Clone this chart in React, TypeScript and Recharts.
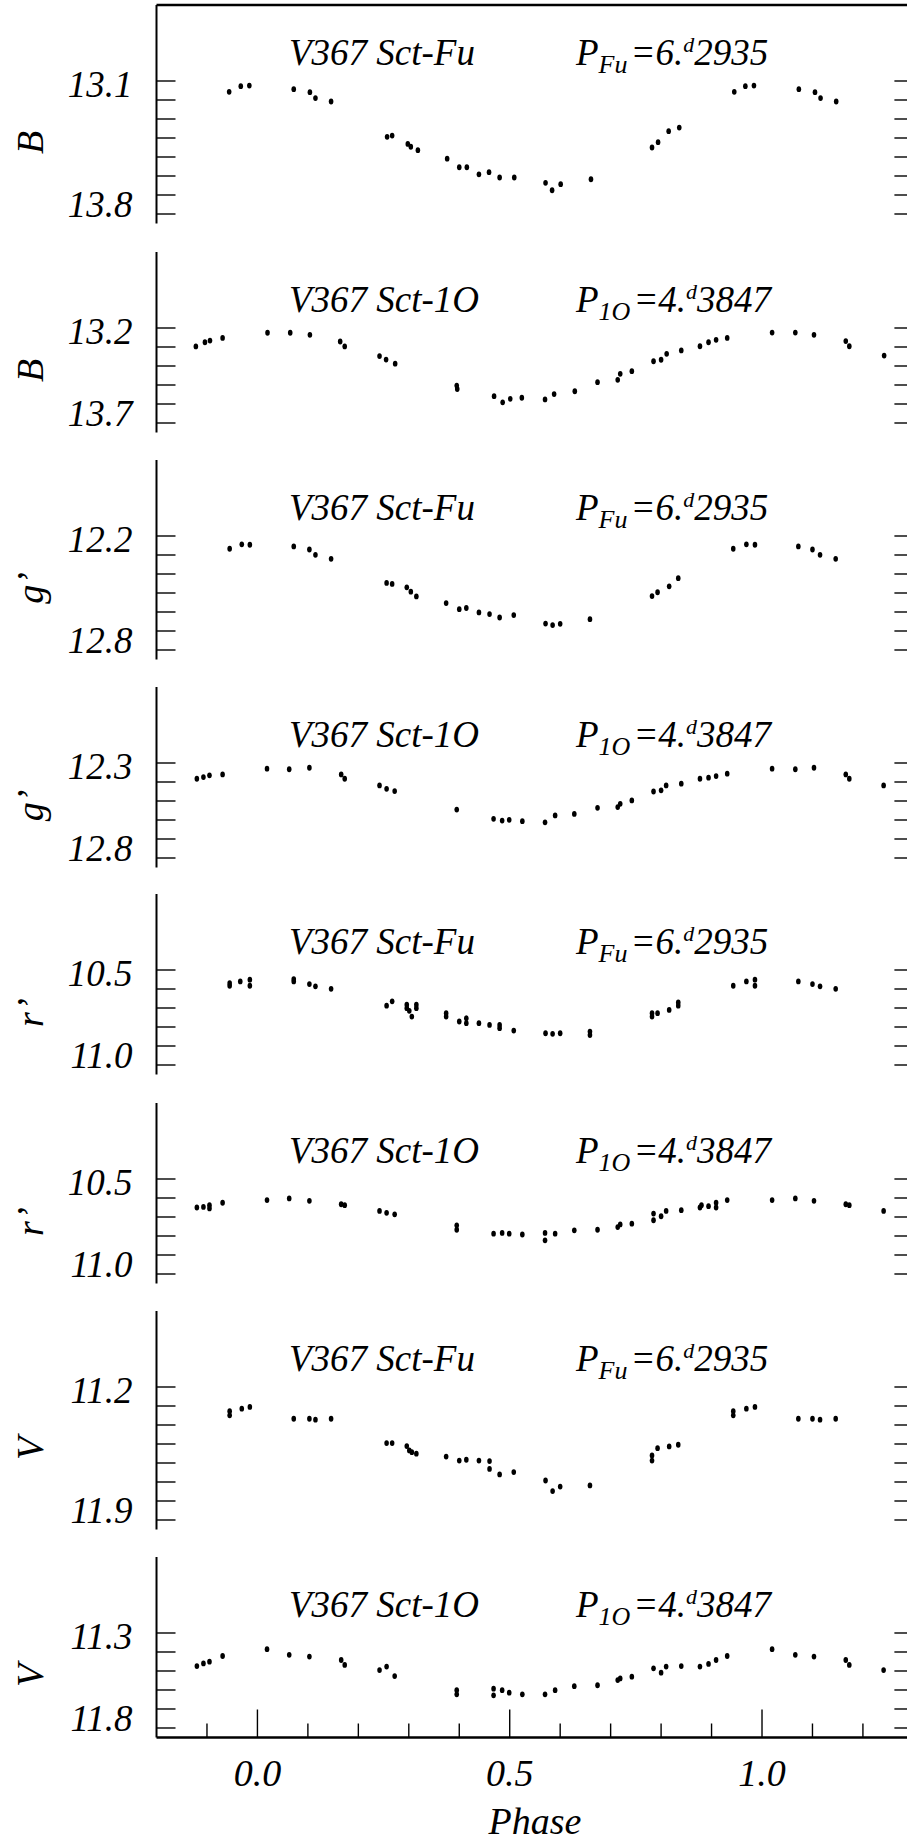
import React from 'react';
import { ScatterChart, Scatter, XAxis, YAxis, ReferenceLine, Customized } from 'recharts';

// Phase axis shared by all panels
const phaseTicks = [-0.1, 0, 0.1, 0.2, 0.3, 0.4, 0.5, 0.6, 0.7, 0.8, 0.9, 1, 1.1, 1.2];
const phaseLabelTicks = [0, 0.5, 1];

// Period strings for the two pulsation modes
const periodFu = ['6.', '2935'];
const period1O = ['4.', '3847'];

// B, fundamental mode
const bFuPhase = [-0.056, -0.033, -0.016, 0.072, 0.104, 0.115, 0.146, 0.257, 0.267, 0.298, 0.304, 0.318, 0.376, 0.4, 0.415, 0.439, 0.459, 0.48, 0.509, 0.571, 0.584, 0.601, 0.661, 0.782, 0.794, 0.815, 0.836, 0.945, 0.967, 0.984, 1.073, 1.105, 1.116, 1.147];
const bFuMag = [13.157, 13.127, 13.124, 13.143, 13.159, 13.19, 13.208, 13.394, 13.387, 13.431, 13.446, 13.464, 13.509, 13.554, 13.554, 13.591, 13.58, 13.608, 13.608, 13.636, 13.675, 13.643, 13.617, 13.45, 13.422, 13.364, 13.345, 13.157, 13.127, 13.124, 13.143, 13.159, 13.19, 13.208];
const bFuTicks = [13.1, 13.2, 13.3, 13.4, 13.5, 13.6, 13.7, 13.8];

// B, first overtone
const b1oPhase = [-0.122, -0.104, -0.094, -0.069, 0.02, 0.065, 0.104, 0.164, 0.173, 0.242, 0.255, 0.273, 0.395, 0.396, 0.469, 0.486, 0.501, 0.524, 0.57, 0.588, 0.629, 0.674, 0.714, 0.719, 0.742, 0.785, 0.8, 0.811, 0.84, 0.877, 0.894, 0.909, 0.931, 1.02, 1.066, 1.103, 1.166, 1.173, 1.242];
const b1oMag = [13.297, 13.275, 13.266, 13.252, 13.225, 13.225, 13.236, 13.271, 13.297, 13.348, 13.366, 13.388, 13.503, 13.521, 13.559, 13.591, 13.573, 13.567, 13.576, 13.548, 13.533, 13.485, 13.473, 13.441, 13.427, 13.375, 13.367, 13.336, 13.318, 13.296, 13.275, 13.262, 13.252, 13.224, 13.224, 13.236, 13.269, 13.296, 13.345];
const b1oTicks = [13.2, 13.3, 13.4, 13.5, 13.6, 13.7];

// g', fundamental mode
const gFuPhase = [-0.055, -0.031, -0.015, 0.072, 0.103, 0.115, 0.146, 0.256, 0.267, 0.296, 0.304, 0.315, 0.374, 0.4, 0.414, 0.439, 0.46, 0.48, 0.508, 0.571, 0.585, 0.6, 0.659, 0.782, 0.793, 0.816, 0.834, 0.943, 0.969, 0.986, 1.072, 1.1, 1.115, 1.146];
const gFuMag = [12.267, 12.244, 12.246, 12.255, 12.271, 12.299, 12.32, 12.447, 12.452, 12.47, 12.493, 12.518, 12.553, 12.585, 12.579, 12.602, 12.611, 12.629, 12.616, 12.661, 12.669, 12.662, 12.638, 12.516, 12.496, 12.465, 12.422, 12.267, 12.244, 12.246, 12.255, 12.271, 12.299, 12.32];
const gFuTicks = [12.2, 12.3, 12.4, 12.5, 12.6, 12.7, 12.8];

// g', first overtone
const g1oPhase = [-0.12, -0.107, -0.095, -0.069, 0.019, 0.063, 0.103, 0.166, 0.173, 0.242, 0.256, 0.272, 0.395, 0.468, 0.485, 0.499, 0.525, 0.57, 0.59, 0.628, 0.674, 0.714, 0.719, 0.742, 0.785, 0.8, 0.81, 0.84, 0.877, 0.894, 0.909, 0.931, 1.02, 1.066, 1.103, 1.166, 1.173, 1.241];
const g1oMag = [12.383, 12.374, 12.365, 12.36, 12.33, 12.333, 12.325, 12.36, 12.383, 12.418, 12.436, 12.448, 12.545, 12.594, 12.603, 12.599, 12.606, 12.612, 12.576, 12.568, 12.536, 12.532, 12.515, 12.497, 12.45, 12.444, 12.418, 12.409, 12.383, 12.377, 12.369, 12.356, 12.33, 12.333, 12.325, 12.36, 12.383, 12.418];
const g1oTicks = [12.3, 12.4, 12.5, 12.6, 12.7, 12.8];

// r', fundamental mode
const rFuPhase = [-0.055, -0.055, -0.034, -0.015, -0.015, 0.072, 0.072, 0.103, 0.115, 0.146, 0.256, 0.267, 0.296, 0.296, 0.301, 0.306, 0.315, 0.315, 0.374, 0.374, 0.4, 0.414, 0.414, 0.439, 0.46, 0.48, 0.48, 0.508, 0.571, 0.585, 0.6, 0.659, 0.659, 0.782, 0.782, 0.793, 0.816, 0.834, 0.834, 0.943, 0.969, 0.986, 0.986, 1.072, 1.1, 1.115, 1.146];
const rFuMag = [10.583, 10.569, 10.56, 10.551, 10.583, 10.56, 10.548, 10.574, 10.586, 10.599, 10.688, 10.665, 10.701, 10.683, 10.715, 10.745, 10.701, 10.683, 10.745, 10.727, 10.771, 10.754, 10.78, 10.78, 10.789, 10.806, 10.789, 10.819, 10.833, 10.836, 10.833, 10.842, 10.824, 10.745, 10.727, 10.727, 10.71, 10.688, 10.671, 10.583, 10.56, 10.551, 10.583, 10.56, 10.574, 10.586, 10.599];
const rFuTicks = [10.5, 10.6, 10.7, 10.8, 10.9, 11.0];

// r', first overtone
const r1oPhase = [-0.12, -0.107, -0.095, -0.095, -0.069, 0.019, 0.063, 0.103, 0.166, 0.173, 0.242, 0.256, 0.272, 0.395, 0.395, 0.468, 0.485, 0.499, 0.525, 0.57, 0.57, 0.59, 0.628, 0.674, 0.714, 0.719, 0.742, 0.785, 0.785, 0.8, 0.81, 0.84, 0.877, 0.88, 0.894, 0.909, 0.909, 0.931, 1.02, 1.066, 1.103, 1.166, 1.173, 1.241];
const r1oMag = [10.65, 10.647, 10.655, 10.638, 10.625, 10.611, 10.602, 10.615, 10.633, 10.638, 10.668, 10.678, 10.686, 10.744, 10.767, 10.788, 10.784, 10.788, 10.792, 10.784, 10.823, 10.788, 10.77, 10.767, 10.753, 10.739, 10.735, 10.717, 10.682, 10.696, 10.668, 10.664, 10.65, 10.638, 10.643, 10.65, 10.625, 10.611, 10.611, 10.602, 10.615, 10.633, 10.638, 10.668];
const r1oTicks = [10.5, 10.6, 10.7, 10.8, 10.9, 11.0];

// V, fundamental mode
const vFuPhase = [-0.055, -0.055, -0.031, -0.015, 0.072, 0.103, 0.115, 0.146, 0.256, 0.267, 0.296, 0.301, 0.306, 0.315, 0.374, 0.4, 0.414, 0.439, 0.46, 0.46, 0.48, 0.508, 0.571, 0.585, 0.6, 0.659, 0.782, 0.782, 0.793, 0.816, 0.834, 0.943, 0.943, 0.969, 0.986, 1.072, 1.1, 1.115, 1.146];
const vFuMag = [11.327, 11.349, 11.314, 11.305, 11.367, 11.367, 11.372, 11.367, 11.495, 11.495, 11.511, 11.534, 11.543, 11.551, 11.566, 11.587, 11.583, 11.587, 11.59, 11.631, 11.66, 11.648, 11.692, 11.748, 11.724, 11.718, 11.56, 11.587, 11.522, 11.513, 11.504, 11.327, 11.349, 11.314, 11.305, 11.367, 11.367, 11.372, 11.367];
const vFuTicks = [11.2, 11.3, 11.4, 11.5, 11.6, 11.7, 11.8, 11.9];

// V, first overtone
const v1oPhase = [-0.12, -0.107, -0.095, -0.069, 0.019, 0.063, 0.103, 0.166, 0.173, 0.242, 0.256, 0.272, 0.395, 0.395, 0.468, 0.468, 0.485, 0.499, 0.525, 0.57, 0.59, 0.628, 0.674, 0.714, 0.719, 0.742, 0.785, 0.8, 0.81, 0.84, 0.877, 0.894, 0.909, 0.931, 1.02, 1.066, 1.103, 1.166, 1.173, 1.241];
const v1oMag = [11.474, 11.46, 11.451, 11.421, 11.385, 11.415, 11.424, 11.442, 11.468, 11.495, 11.477, 11.527, 11.601, 11.623, 11.593, 11.628, 11.601, 11.614, 11.623, 11.623, 11.601, 11.58, 11.575, 11.548, 11.539, 11.53, 11.486, 11.509, 11.477, 11.474, 11.477, 11.463, 11.442, 11.421, 11.385, 11.415, 11.424, 11.442, 11.468, 11.495];
const v1oTicks = [11.3, 11.4, 11.5, 11.6, 11.7, 11.8];

// layout
const SERIF = '"Liberation Serif", "Times New Roman", serif';
const PAGE_W = 907;
const PAGE_H = 1845;
const CHART_W = 1000;
const PLOT_LEFT = 156.5;
const PLOT_RIGHT = 913.4; // phase 1.3, just past the picture's edge
const AXIS_W = 60;
const PX_PER_MAG = 190;
const M = 12;

type Panel = {
  band: string;
  mode: 'Fu' | '1O';
  phase: number[];
  mag: number[];
  ticks: number[];
  domain: [number, number];
  top: number;
};

const panels: Panel[] = [
  { band: 'B', mode: 'Fu', phase: bFuPhase, mag: bFuMag, ticks: bFuTicks, domain: [12.7, 13.85], top: 5 },
  { band: 'B', mode: '1O', phase: b1oPhase, mag: b1oMag, ticks: b1oTicks, domain: [12.8, 13.75], top: 251.5 },
  { band: 'g\u2019', mode: 'Fu', phase: gFuPhase, mag: gFuMag, ticks: gFuTicks, domain: [11.8, 12.85], top: 459.7 },
  { band: 'g\u2019', mode: '1O', phase: g1oPhase, mag: g1oMag, ticks: g1oTicks, domain: [11.9, 12.85], top: 686.7 },
  { band: 'r\u2019', mode: 'Fu', phase: rFuPhase, mag: rFuMag, ticks: rFuTicks, domain: [10.1, 11.05], top: 894.3 },
  { band: 'r\u2019', mode: '1O', phase: r1oPhase, mag: r1oMag, ticks: r1oTicks, domain: [10.1, 11.05], top: 1103 },
  { band: 'V', mode: 'Fu', phase: vFuPhase, mag: vFuMag, ticks: vFuTicks, domain: [10.8, 11.95], top: 1310.7 },
  { band: 'V', mode: '1O', phase: v1oPhase, mag: v1oMag, ticks: v1oTicks, domain: [10.9, 11.85], top: 1557.3 },
];

const Dot = (p: any) => <ellipse cx={p.cx} cy={p.cy} rx={2.3} ry={2.9} fill="#000" />;

// left ticks point into the plot; only the first and last value get a label
function LeftTick({ x, y, payload, ticks }: any) {
  const v = payload.value;
  const first = v === ticks[0];
  const last = v === ticks[ticks.length - 1];
  return (
    <g>
      <line x1={x} x2={x + 19} y1={y} y2={y} stroke="#000" strokeWidth={1.4} />
      {(first || last) && (
        <text x={x - 24} y={y + (first ? 16 : 3)} textAnchor="end" style={{ fontFamily: SERIF, fontStyle: 'italic' }} fontSize={37} fill="#000">
          {v.toFixed(1)}
        </text>
      )}
    </g>
  );
}

function RightTick({ x, y }: any) {
  return <line x1={x} x2={x - 19} y1={y} y2={y} stroke="#000" strokeWidth={1.4} />;
}

function PhaseTick({ x, y, payload }: any) {
  const major = phaseLabelTicks.includes(payload.value);
  return (
    <g>
      <line x1={x} x2={x} y1={y} y2={y - (major ? 28 : 14)} stroke="#000" strokeWidth={1.4} />
      {major && (
        <text x={x} y={y + 49} textAnchor="middle" style={{ fontFamily: SERIF, fontStyle: 'italic' }} fontSize={38} fill="#000">
          {payload.value.toFixed(1)}
        </text>
      )}
    </g>
  );
}

function PanelText({ p, last }: { p: Panel; last: boolean }) {
  const plotH = (p.domain[1] - p.domain[0]) * PX_PER_MAG;
  const mid = p.ticks[0] + (p.ticks[p.ticks.length - 1] - p.ticks[0]) / 2;
  const labelY = M + (mid - p.domain[0]) * PX_PER_MAG - 5;
  const [whole, frac] = p.mode === 'Fu' ? periodFu : period1O;
  return (
    <g style={{ fontFamily: SERIF, fontStyle: 'italic' }} fill="#000">
      <text x={289} y={M + 60} fontSize={37}>{`V367 Sct-${p.mode}`}</text>
      <text x={576} y={M + 60} fontSize={37}>
        P<tspan fontSize={26} dy={8}>{p.mode}</tspan>
        <tspan dx={3} dy={-8}>={whole}</tspan>
        <tspan fontSize={22} dy={-13}>d</tspan>
        <tspan dy={13}>{frac}</tspan>
      </text>
      <text transform={`translate(43, ${labelY}) rotate(-90)`} textAnchor="middle" fontSize={38}>
        {p.band}
      </text>
      {last && (
        <text x={(PLOT_LEFT + PLOT_RIGHT) / 2} y={M + plotH + 97} textAnchor="middle" fontSize={38}>
          Phase
        </text>
      )}
    </g>
  );
}

function LightCurve({ p, index }: { p: Panel; index: number }) {
  const last = index === panels.length - 1;
  const plotH = (p.domain[1] - p.domain[0]) * PX_PER_MAG;
  const xAxisH = PAGE_H - (p.top + plotH);
  const height = M + plotH + (last ? xAxisH : M);
  const data = p.phase.map((ph, i) => ({ phase: ph, mag: p.mag[i] }));

  return (
    <div style={{ position: 'absolute', left: 0, top: p.top - M }}>
      <ScatterChart
        width={CHART_W}
        height={height}
        margin={{ top: M, right: CHART_W - PLOT_RIGHT - AXIS_W, bottom: last ? 0 : M, left: PLOT_LEFT - AXIS_W }}
      >
        <XAxis
          type="number"
          dataKey="phase"
          domain={[-0.2, 1.3]}
          allowDataOverflow
          ticks={phaseTicks}
          interval={0}
          hide={!last}
          height={last ? xAxisH : 0}
          axisLine={{ stroke: '#000', strokeWidth: 2.5 }}
          tickLine={false}
          tickSize={0}
          tickMargin={0}
          tick={(t: any) => <PhaseTick {...t} />}
        />
        <YAxis
          yAxisId="l"
          type="number"
          dataKey="mag"
          domain={p.domain}
          allowDataOverflow
          reversed
          ticks={p.ticks}
          interval={0}
          width={AXIS_W}
          axisLine={{ stroke: '#000', strokeWidth: 2 }}
          tickLine={false}
          tickSize={0}
          tickMargin={0}
          tick={(t: any) => <LeftTick {...t} ticks={p.ticks} />}
        />
        <YAxis
          yAxisId="r"
          orientation="right"
          type="number"
          domain={p.domain}
          allowDataOverflow
          reversed
          ticks={p.ticks}
          interval={0}
          width={AXIS_W}
          axisLine={{ stroke: '#000', strokeWidth: 2 }}
          tickLine={false}
          tickSize={0}
          tickMargin={0}
          tick={(t: any) => <RightTick {...t} />}
        />
        {index === 0 && <ReferenceLine yAxisId="l" y={p.domain[0]} stroke="#000" strokeWidth={2.5} />}
        <Scatter yAxisId="l" data={data} shape={Dot} isAnimationActive={false} />
        <Customized component={<PanelText p={p} last={last} />} />
      </ScatterChart>
    </div>
  );
}

export default function App() {
  return (
    <div
      style={{
        position: 'absolute',
        left: 0,
        top: 0,
        width: PAGE_W,
        height: PAGE_H,
        overflow: 'hidden',
        background: '#fff',
      }}
    >
      {panels.map((p, i) => (
        <LightCurve key={i} p={p} index={i} />
      ))}
    </div>
  );
}
